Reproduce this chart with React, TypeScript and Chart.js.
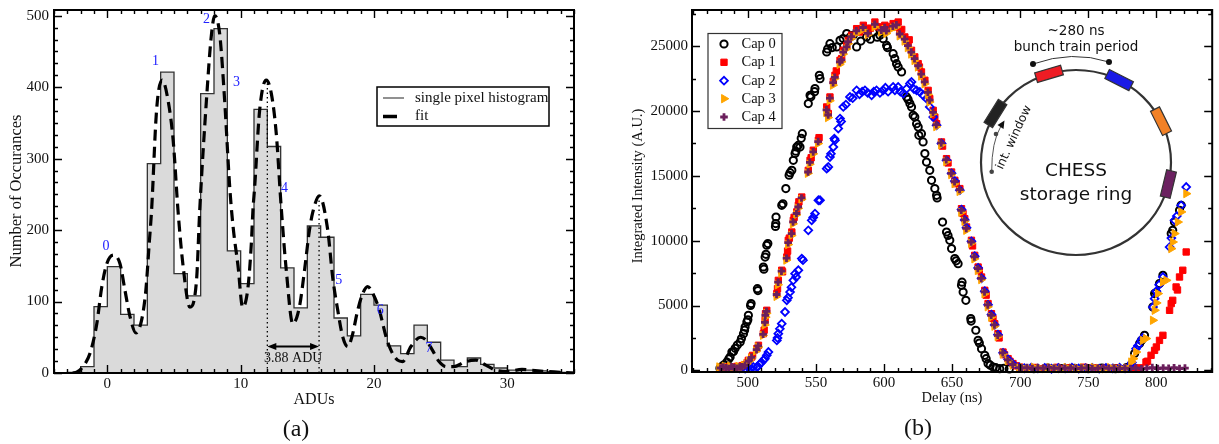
import React, { useEffect, useRef } from 'react';
import { Chart, registerables } from 'chart.js';

Chart.register(...registerables);

// ---------------- Panel (a): single pixel histogram ----------------
const histBinStarts = [-4, -3, -2, -1, 0, 1, 2, 3, 4, 5, 6, 7, 8, 9, 10, 11, 12, 13, 14, 15, 16, 17, 18, 19, 20, 21, 22, 23, 24, 25, 26, 27, 28, 29, 30, 31, 32, 33, 34];
const histCounts = [0, 1, 9, 93, 149, 82, 67, 293, 421, 139, 108, 391, 482, 171, 125, 369, 317, 147, 91, 206, 190, 77, 52, 110, 95, 38, 27, 67, 43, 18, 9, 21, 12, 7, 4, 4, 3, 2, 1];

const fitAdu = [-2.6, -2.3, -1.67, -1.29, -0.79, -0.42, -0.04, 0.45, 0.95, 1.32, 1.7, 2.15, 2.57, 2.89, 3.14, 3.32, 3.69, 4.11, 4.56, 4.94, 5.31, 5.68, 6.19, 6.69, 6.93, 7.43, 7.81, 8.06, 8.43, 8.8, 9.18, 9.43, 9.8, 10.15, 10.55, 10.8, 10.92, 11.05, 11.42, 11.92, 12.3, 12.67, 13.04, 13.42, 13.91, 14.41, 14.79, 15.16, 15.41, 15.9, 16.53, 16.9, 17.28, 17.65, 18.03, 18.35, 18.78, 19.15, 19.52, 20.02, 20.4, 20.9, 21.27, 21.77, 22.14, 22.77, 23.5, 23.9, 24.38, 24.88, 25.4, 26.0, 26.88, 27.63, 28.38, 29.12, 30.0, 31.1, 31.8, 33.0, 35.0];
const fitCounts = [0, 1, 13, 28, 69, 120, 153, 165, 153, 116, 79, 56, 74, 116, 181, 228, 367, 410, 381, 325, 225, 150, 92, 130, 228, 381, 474, 500, 474, 381, 260, 205, 150, 92, 120, 181, 228, 260, 367, 410, 391, 335, 232, 144, 69, 93, 144, 200, 225, 248, 200, 134, 88, 51, 37, 51, 88, 111, 121, 107, 88, 51, 32, 18, 16, 37, 50, 46, 32, 16, 9, 9, 16, 18, 11, 4, 2, 5, 4, 2, 0];

const peakLabels = ['0', '1', '2', '3', '4', '5', '6', '7'];
const peakLabelAdu = [-0.1, 3.62, 7.43, 9.68, 13.29, 17.35, 20.47, 24.13];
const peakLabelCount = [177, 436, 495, 407, 259, 129, 88, 34];

const spacingStartAdu = 12.0;
const peakSpacingAdu = 3.88;
const spacingLineTops = [410, 246];
const spacingArrowCount = 37;
const spacingTextCount = 21;

const xTicksA = [0, 10, 20, 30];
const yTicksA = [0, 100, 200, 300, 400, 500];

// ---------------- Panel (b): integrated intensity vs delay ----------------
const cap0: [number, number][] = [
  [479.5, 150], [481, 300], [482.5, 420], [484.6, 640], [486, 880], [487, 1030], [488.3, 1410], [489.5, 1450], [490.7, 1700], [492.3, 1950], [494.4, 2180], [495.3, 2450], [496.8, 2830], [497.6, 3100], [498, 3340], [499.3, 3730], [500, 3900], [500.4, 4240], [502, 5000], [502.4, 5150], [507, 6300], [507.4, 6150], [511.4, 7970], [511.8, 7800], [512.7, 8740], [513.3, 8950], [513.9, 9650], [514.7, 9780],
  [520.3, 11100], [520.5, 11320], [520.7, 11830], [524.9, 12730], [525.8, 12850], [527.9, 14020], [530.3, 15050], [531, 15250], [532.3, 15430], [533.4, 16200], [534.7, 16720], [535.3, 16900], [535.9, 17230], [537, 17350], [538.3, 17230], [539.2, 17900], [540, 18260],
  [544.4, 20580], [545.7, 21220], [546.3, 21100], [549, 21500], [549.3, 21740], [552.5, 22760], [553, 22500],
  [557.9, 24560], [558.6, 24800], [560.3, 25200], [562, 24900], [565.3, 24950], [567.7, 25460], [570, 25600], [572.6, 25980], [575, 25700], [577.4, 25850], [579.9, 24950], [583, 25400], [587.2, 25720], [590, 25550], [592.1, 26100], [595, 25700], [597, 25850], [599.4, 25590], [601.9, 25070], [602.5, 24900],
  [606.7, 24430], [607.9, 24050], [609.2, 23660], [610.4, 23400], [612.9, 23020],
  [616.6, 21090], [617.7, 20900], [619, 20580], [620.2, 20320], [621.4, 19680], [622.6, 19540], [623.9, 19030], [625.1, 18770], [625.6, 18130], [627.5, 18260], [628.7, 17620],
  [630, 16720], [631.2, 16070], [633.6, 15430], [634.9, 14660], [637.3, 14020], [638.6, 13500], [639, 13300],
  [643, 11440], [645.9, 10670], [647, 10400], [648.3, 10030], [649.6, 9390], [652, 8620], [653, 8450], [654.4, 8230],
  [656.9, 6560], [657.3, 6800], [658.1, 6040], [660.1, 5400], [663.7, 3990], [664, 3800], [667.4, 3090], [669.1, 2310], [670, 2100], [671.6, 1670], [674, 1160], [675, 900], [676.4, 520], [678, 400], [680.1, 250], [682, 200], [685, 130], [688, 150], [692, 110],
  [700, 150], [710, 120], [720, 180], [730, 140], [740, 160], [750, 120], [760, 170], [770, 130], [778, 200],
  [784, 1290], [787.7, 2060], [789, 2300], [791.3, 2700], [797.4, 4880], [798.7, 5920], [800, 6000], [802.3, 6690], [804.8, 7330], [810.9, 10550], [812, 10800], [813.3, 11440], [817, 12350], [818.2, 12730],
];

const cap1: [number, number][] = [
  [480, 220], [482, 160], [484, 280], [486, 190], [488, 250], [490, 160], [492, 300], [494, 230], [496, 360], [498, 420], [499.5, 600], [500.4, 770], [502.9, 1030], [503.5, 1150], [506.6, 1670], [507.8, 1930], [511.4, 2830], [512, 3100], [512.7, 3860], [513, 4370], [513.9, 4630],
  [521.3, 5920], [521.8, 6300], [522.4, 6940], [524.9, 7720], [525.5, 7600], [528.6, 8740], [529.2, 9200], [529.7, 10030], [530.5, 10200], [532.3, 10670], [533.4, 11570], [534, 11800], [535.9, 12220], [537.1, 12730], [537.5, 13000], [539.6, 13370],
  [544.4, 15430], [545.7, 16200], [546.5, 16400], [548.1, 16980], [551.8, 17750], [552.3, 17950], [557.9, 20320], [559.1, 19810], [560.3, 21090], [562.8, 22300], [564, 22760], [565, 23100], [567.7, 23920], [568.9, 24050], [570.1, 24690], [572.6, 25070], [573.8, 25460], [576.2, 25850], [579.9, 26360], [582, 26100], [584.8, 26620], [586, 26300], [588.4, 26100], [590, 26400], [593.3, 26870], [596, 26500], [598.2, 26360], [600.6, 26620], [601.9, 26360], [604, 26500], [606.7, 26750], [608, 26500], [610.4, 26870], [611.7, 26100], [613, 26300], [615.3, 25720], [617.7, 25200], [618.5, 25500], [620.2, 24690], [622.6, 24180], [625.1, 23660], [626, 23400], [627.5, 23020], [630, 22380], [632.4, 21600], [633.6, 20960], [636.1, 20060], [637.3, 19540], [638.6, 19030],
  [642.2, 17620], [643, 17300], [645.9, 16330], [647, 16000], [649.6, 15300], [652, 14660], [653, 14400], [655.7, 14020], [656.9, 12470], [658, 12100], [659.3, 11700], [660.6, 11060], [664.2, 10030], [665, 9600], [666.6, 8870], [669.1, 7970], [670, 7700], [671.6, 7200], [674, 6170], [675, 5800], [676.4, 5150], [678.9, 4370], [680, 4000], [681.3, 3600], [683.7, 2830], [684.5, 2500], [687.4, 1410], [688.5, 1200], [691.1, 900], [692.5, 700], [694.7, 520], [697, 350], [699.6, 250],
  [703, 180], [707, 140], [711, 220], [715, 120], [719, 190], [723, 150], [727, 230], [731, 130], [735, 200], [739, 170], [743, 120], [747, 240], [751, 160], [755, 190], [759, 130], [763, 210], [767, 150], [771, 180], [775, 120], [779, 200], [782, 160], [785, 120], [788, 190],
  [792.4, 640], [793.5, 700], [796.1, 1160], [798.7, 1540], [800, 1800], [802.3, 2310], [804.8, 2700], [809.7, 4630], [810.9, 5150], [812, 5400], [814.5, 6430], [815.5, 6200], [817, 7200], [819.4, 7720], [821.9, 9130],
];

const cap2: [number, number][] = [
  [494, 160], [496, 220], [498, 140], [500.4, 230], [502, 180], [504, 260], [506.6, 250], [507.5, 300], [509, 520], [510, 600], [511.4, 770], [512.5, 900], [513.9, 1160], [515.1, 1410],
  [521.3, 2310], [521.8, 2500], [522.4, 2830], [523.5, 3200], [524.9, 3600], [527.3, 4500], [528.6, 5400], [529.5, 5600], [531, 6040], [532, 6400], [533.4, 6940], [534.7, 7460], [535.5, 7200], [537.1, 7720], [539.6, 8620], [540.5, 8500],
  [544.4, 10800], [546.9, 11570], [548, 11800], [549.3, 12090], [551.8, 13120], [553, 13120], [557.9, 15560], [559.1, 15690], [560.3, 16460], [561, 16700], [562.8, 17230], [563.5, 17880], [564, 17750], [566.4, 18650], [567.7, 19420], [568.5, 19200], [570.1, 20320], [572, 20500], [575, 21090], [577, 21000], [579.9, 21600], [582, 21300], [584, 21500], [586, 21600], [588, 21400], [590.9, 21220], [592.5, 21500], [594.5, 21600], [597, 21400], [599.4, 21600], [601, 21800], [603, 21500], [606.7, 21860], [608, 21600], [610.4, 21860], [612, 21500], [614.1, 21350], [616.6, 21730], [619, 22120], [620.2, 22250], [622, 21700], [623.9, 21600], [626.3, 21470], [628.7, 21220], [631.2, 20960], [633.6, 20320], [636.1, 19540], [638.6, 18900],
  [642.2, 17500], [645.9, 16200], [649.6, 15200], [652, 14600], [655.7, 13900], [656.9, 12400], [659.3, 11600], [660.6, 11000], [664.2, 9950], [666.6, 8800], [669.1, 7900], [671.6, 7100], [674, 6100], [676.4, 5050], [678.9, 4300], [681.3, 3500], [683.7, 2750], [687.4, 1350], [691.1, 850], [694.7, 480], [699.6, 220],
  [703, 160], [708, 210], [713, 150], [718, 190], [723, 120], [728, 180], [733, 160], [738, 200], [743, 140], [748, 170], [753, 190], [758, 130], [763, 180], [768, 150], [773, 200], [777, 160], [780, 260],
  [782, 600], [785.1, 1670], [786.5, 1900], [788.8, 2310], [790, 2500], [797.4, 4880], [798.7, 5530], [800, 6100], [802, 6600], [804.8, 7200], [809.7, 9510], [811, 10200], [813.3, 11570], [815, 11900], [818.2, 12730], [821.9, 14140],
];

const cap3: [number, number][] = [
  [479, 260], [481, 160], [483, 310], [485, 180], [487, 330], [489, 240], [491, 160], [493, 300], [495, 210], [497, 380], [499, 500], [500.8, 700], [502.5, 950], [506, 1500], [507.5, 1800], [511, 2700], [512.3, 3500], [512.9, 4100], [513.6, 4400],
  [521, 5700], [522, 6600], [524.5, 7500], [528.2, 8500], [529.5, 9700], [532, 10400], [533, 11300], [535.5, 12000], [536.8, 12500], [539.3, 13200],
  [544, 15200], [545.3, 15900], [547.8, 16700], [551.5, 17500], [557.5, 19900], [558.8, 19500], [560, 20800], [562.4, 22000], [563.6, 22500], [567.3, 23600], [568.6, 23800], [569.8, 24400], [572.3, 24800], [573.5, 25200], [575.8, 25600], [579.6, 26000], [584.4, 26300], [588, 25900], [593, 26500], [597.8, 26100], [600.3, 26300], [601.6, 26000], [606.4, 26400], [609, 26500], [611.4, 25800], [615, 25400], [617.4, 24900], [619.9, 24400], [622.3, 23900], [624.8, 23400], [627.2, 22700], [629.7, 22100], [632.1, 21300], [633.3, 20700], [635.8, 19800], [638.3, 18800],
  [641.9, 17400], [645.6, 16100], [649.3, 15100], [651.7, 14400], [655.4, 13800], [656.6, 12200], [659, 11500], [660.3, 10800], [663.9, 9800], [666.3, 8600], [668.8, 7700], [671.3, 7000], [673.7, 5900], [676.1, 4900], [678.6, 4100], [681, 3400], [683.4, 2600], [687.1, 1250], [690.8, 750], [694.4, 400], [699.3, 180],
  [702, 190], [706, 150], [710, 230], [714, 170], [718, 130], [722, 210], [726, 160], [730, 120], [734, 220], [738, 180], [742, 140], [746, 200], [750, 160], [754, 220], [758, 150], [762, 120], [766, 210], [770, 170], [774, 140], [778, 190],
  [781.5, 640], [783, 900], [785.1, 1410], [790, 2310], [792.4, 2450], [797.4, 3860], [798.7, 4630], [800, 5200], [801.1, 5920], [804.8, 6810], [807.3, 6940], [810.9, 9390], [812, 9900], [813.3, 10550], [815.7, 11440], [818.2, 12220], [821.9, 13630],
];

const cap4: [number, number][] = [
  [480, 180], [482, 260], [484, 200], [486, 140], [488, 280], [490, 210], [492, 160], [494, 250], [496, 280], [498, 380], [500.6, 720], [502.7, 1000], [506.4, 1600], [507.6, 1880], [511.2, 2780], [512.5, 3700], [512.8, 4250], [513.7, 4550],
  [521.1, 5850], [522.2, 6800], [524.7, 7650], [528.4, 8650], [529.6, 9850], [532.1, 10550], [533.2, 11450], [535.7, 12100], [537, 12600], [539.4, 13300],
  [544.2, 15300], [545.5, 16050], [548, 16850], [551.6, 17650], [557.7, 20100], [559, 19700], [560.2, 21000], [562.6, 22200], [563.8, 22600], [567.5, 23800], [568.7, 23950], [570, 24550], [572.5, 24950], [573.6, 25350], [576, 25750], [579.7, 26200], [584.6, 26450], [588.2, 26000], [593.2, 26700], [598, 26250], [600.5, 26450], [601.7, 26200], [606.5, 26550], [609.1, 26650], [611.5, 25950], [615.1, 25550], [617.5, 25050], [620, 24550], [622.4, 24050], [625, 23500], [627.3, 22850], [629.8, 22250], [632.2, 21450], [633.5, 20850], [636, 19900], [638.4, 18950],
  [642, 17550], [645.7, 16250], [649.4, 15200], [651.8, 14550], [655.5, 13950], [656.7, 12350], [659.1, 11600], [660.4, 10950], [664, 9900], [666.4, 8750], [668.9, 7850], [671.4, 7100], [673.8, 6050], [676.2, 5050], [678.7, 4250], [681.1, 3500], [683.5, 2700], [687.2, 1350], [690.9, 800], [694.5, 450], [699.4, 200],
  [701, 170], [705, 210], [709, 140], [713, 190], [717, 160], [721, 220], [725, 150], [729, 180], [733, 150], [737, 200], [741, 130], [745, 170], [749, 190], [753, 130], [757, 160], [761, 200], [765, 150], [769, 180], [773, 130], [777, 170], [781, 140], [785, 190], [789, 120], [793, 160], [797, 210], [801, 140], [805, 180], [809, 150], [813, 200], [817, 130], [821, 170],
];

const capLabels = ['Cap 0', 'Cap 1', 'Cap 2', 'Cap 3', 'Cap 4'];
const xTicksB = [500, 550, 600, 650, 700, 750, 800];
const yTicksB = [0, 5000, 10000, 15000, 20000, 25000];

// ---------------- helpers ----------------
const SERIF = "'Liberation Serif', 'Times New Roman', serif";
const SANS = "'DejaVu Sans', Verdana, sans-serif";

type MarkerSpec = { style: string; color: string; fill: string; radius: number; rotation: number; width: number };

const capStyles: MarkerSpec[] = [
  { style: 'circle', color: '#000000', fill: 'rgba(0,0,0,0)', radius: 3.6, rotation: 0, width: 2 },
  { style: 'rect', color: '#ff0000', fill: '#ff0000', radius: 4.5, rotation: 0, width: 1 },
  { style: 'rectRot', color: '#0000ff', fill: 'rgba(0,0,0,0)', radius: 3.9, rotation: 0, width: 1.8 },
  { style: 'triangle', color: '#ffa500', fill: '#ffa500', radius: 4.8, rotation: 90, width: 1 },
  { style: 'cross', color: '#6b1f5c', fill: '#6b1f5c', radius: 3.8, rotation: 0, width: 2.8 },
];

function drawMarker(ctx: CanvasRenderingContext2D, m: MarkerSpec, x: number, y: number) {
  ctx.save();
  ctx.strokeStyle = m.color;
  ctx.fillStyle = m.fill;
  ctx.lineWidth = m.width;
  const r = m.radius;
  ctx.beginPath();
  if (m.style === 'circle') {
    ctx.arc(x, y, r, 0, Math.PI * 2);
    ctx.stroke();
  } else if (m.style === 'rect') {
    const s = r * Math.SQRT1_2;
    ctx.rect(x - s, y - s, 2 * s, 2 * s);
    ctx.fill();
    ctx.stroke();
  } else if (m.style === 'rectRot') {
    ctx.moveTo(x - r, y);
    ctx.lineTo(x, y - r);
    ctx.lineTo(x + r, y);
    ctx.lineTo(x, y + r);
    ctx.closePath();
    ctx.stroke();
  } else if (m.style === 'triangle') {
    ctx.moveTo(x + r, y);
    ctx.lineTo(x - r / 2, y - r * 0.866);
    ctx.lineTo(x - r / 2, y + r * 0.866);
    ctx.closePath();
    ctx.fill();
    ctx.stroke();
  } else {
    ctx.moveTo(x - r, y);
    ctx.lineTo(x + r, y);
    ctx.moveTo(x, y - r);
    ctx.lineTo(x, y + r);
    ctx.stroke();
  }
  ctx.restore();
}

function makeFramePlugin(id: string, xMajor: number[], xMinorStep: number, yMajor: number[], yMinorStep: number) {
  return {
    id,
    afterDraw(chart: any) {
      const { ctx, chartArea: a, scales } = chart;
      const xs = scales.x;
      const ys = scales.y;
      const majLen = 8;
      const minLen = 4;
      ctx.save();
      ctx.strokeStyle = '#000';
      ctx.lineWidth = 1.4;
      const isMajor = (list: number[], v: number) => list.some((m) => Math.abs(m - v) < 1e-6);
      const xStart = Math.ceil(xs.min / xMinorStep - 1e-9);
      const xEnd = Math.floor(xs.max / xMinorStep + 1e-9);
      ctx.beginPath();
      for (let k = xStart; k <= xEnd; k++) {
        const v = k * xMinorStep;
        const len = isMajor(xMajor, v) ? majLen : minLen;
        const p = Math.round(xs.getPixelForValue(v)) + 0.5;
        ctx.moveTo(p, a.bottom);
        ctx.lineTo(p, a.bottom - len);
        ctx.moveTo(p, a.top);
        ctx.lineTo(p, a.top + len);
      }
      const yStart = Math.ceil(ys.min / yMinorStep - 1e-9);
      const yEnd = Math.floor(ys.max / yMinorStep + 1e-9);
      for (let k = yStart; k <= yEnd; k++) {
        const v = k * yMinorStep;
        const len = isMajor(yMajor, v) ? majLen : minLen;
        const p = Math.round(ys.getPixelForValue(v)) + 0.5;
        ctx.moveTo(a.left, p);
        ctx.lineTo(a.left + len, p);
        ctx.moveTo(a.right, p);
        ctx.lineTo(a.right - len, p);
      }
      ctx.stroke();
      ctx.lineWidth = 2;
      ctx.strokeRect(a.left, a.top, a.right - a.left, a.bottom - a.top);
      ctx.restore();
    },
  };
}

function text(ctx: CanvasRenderingContext2D, s: string, x: number, y: number, font: string, color = '#111', align: CanvasTextAlign = 'center', rot = 0) {
  ctx.save();
  ctx.font = font;
  ctx.fillStyle = color;
  ctx.textAlign = align;
  ctx.textBaseline = 'middle';
  ctx.translate(x, y);
  if (rot) ctx.rotate(rot);
  ctx.fillText(s, 0, 0);
  ctx.restore();
}

const annotPluginA = {
  id: 'annotA',
  afterDatasetsDraw(chart: any) {
    const { ctx, scales } = chart;
    const xs = scales.x;
    const ys = scales.y;
    ctx.save();
    ctx.strokeStyle = '#000';
    ctx.lineWidth = 1.3;
    ctx.setLineDash([1.5, 3]);
    [spacingStartAdu, spacingStartAdu + peakSpacingAdu].forEach((v, i) => {
      const px = xs.getPixelForValue(v);
      ctx.beginPath();
      ctx.moveTo(px, ys.getPixelForValue(0));
      ctx.lineTo(px, ys.getPixelForValue(spacingLineTops[i]));
      ctx.stroke();
    });
    ctx.setLineDash([]);
    const x1 = xs.getPixelForValue(spacingStartAdu);
    const x2 = xs.getPixelForValue(spacingStartAdu + peakSpacingAdu);
    const ay = ys.getPixelForValue(spacingArrowCount);
    ctx.lineWidth = 2;
    ctx.beginPath();
    ctx.moveTo(x1 + 6, ay);
    ctx.lineTo(x2 - 6, ay);
    ctx.stroke();
    ctx.fillStyle = '#000';
    ctx.beginPath();
    ctx.moveTo(x1, ay);
    ctx.lineTo(x1 + 9, ay - 3.5);
    ctx.lineTo(x1 + 9, ay + 3.5);
    ctx.closePath();
    ctx.fill();
    ctx.beginPath();
    ctx.moveTo(x2, ay);
    ctx.lineTo(x2 - 9, ay - 3.5);
    ctx.lineTo(x2 - 9, ay + 3.5);
    ctx.closePath();
    ctx.fill();
    ctx.restore();
    text(ctx, `${peakSpacingAdu.toFixed(2)} ADU`, (x1 + x2) / 2, ys.getPixelForValue(spacingTextCount), `14px ${SERIF}`, '#111');
    peakLabels.forEach((lab, i) => {
      text(ctx, lab, xs.getPixelForValue(peakLabelAdu[i]), ys.getPixelForValue(peakLabelCount[i]), `14px ${SERIF}`, '#2222ff');
    });
  },
  afterDraw(chart: any) {
    const { ctx } = chart;
    text(ctx, 'Number of Occurances', 17, 191, `16.5px ${SERIF}`, '#111', 'center', -Math.PI / 2);
    text(ctx, 'ADUs', 314, 400, `16px ${SERIF}`);
    text(ctx, '(a)', 296, 430, `24px ${SERIF}`);
    ctx.save();
    ctx.fillStyle = '#fff';
    ctx.fillRect(377, 87, 172, 39);
    ctx.strokeStyle = '#000';
    ctx.lineWidth = 1.5;
    ctx.strokeRect(377, 87, 172, 39);
    ctx.strokeStyle = '#555';
    ctx.lineWidth = 1.3;
    ctx.beginPath();
    ctx.moveTo(383, 98);
    ctx.lineTo(404, 98);
    ctx.stroke();
    ctx.strokeStyle = '#000';
    ctx.lineWidth = 3.5;
    ctx.beginPath();
    ctx.moveTo(383, 116.5);
    ctx.lineTo(397, 116.5);
    ctx.stroke();
    ctx.restore();
    text(ctx, 'single pixel histogram', 415, 98, `15px ${SERIF}`, '#111', 'left');
    text(ctx, 'fit', 415, 116.5, `15px ${SERIF}`, '#111', 'left');
  },
};

const OFF = 610; // page x of right canvas

const annotPluginB = {
  id: 'annotB',
  afterDraw(chart: any) {
    const { ctx } = chart;
    text(ctx, 'Integrated Intensity (A.U.)', 638 - OFF, 186, `14.5px ${SERIF}`, '#111', 'center', -Math.PI / 2);
    text(ctx, 'Delay (ns)', 952 - OFF, 398, `14.5px ${SERIF}`);
    text(ctx, '(b)', 918 - OFF, 429, `24px ${SERIF}`);

    ctx.save();
    ctx.fillStyle = '#fff';
    ctx.fillRect(708 - OFF, 33.5, 74, 95);
    ctx.strokeStyle = '#333';
    ctx.lineWidth = 1.2;
    ctx.strokeRect(708 - OFF, 33.5, 74, 95);
    ctx.restore();
    const rows = [44, 62.3, 80.7, 98.7, 117];
    capLabels.forEach((lab, i) => {
      drawMarker(ctx, capStyles[i], 724 - OFF, rows[i]);
      text(ctx, lab, 741.5 - OFF, rows[i], `14.5px ${SERIF}`, '#111', 'left');
    });

    const cx = 1076 - OFF;
    const cy = 162.5;
    const rx = 95;
    const ry = 92.5;
    ctx.save();
    ctx.strokeStyle = '#333';
    ctx.lineWidth = 2.2;
    ctx.beginPath();
    ctx.ellipse(cx, cy, rx, ry, 0, 0, Math.PI * 2);
    ctx.stroke();
    const boxes: [number, string][] = [
      [-148, '#222222'],
      [-106.5, '#ee1c24'],
      [-63, '#1a1ae6'],
      [-26.5, '#f28126'],
      [13.5, '#6b2160'],
    ];
    boxes.forEach(([deg, col]) => {
      const t = (deg * Math.PI) / 180;
      ctx.save();
      ctx.translate(cx + rx * Math.cos(t), cy + ry * Math.sin(t));
      ctx.rotate(t + Math.PI / 2);
      ctx.fillStyle = col;
      ctx.fillRect(-13.5, -5, 27, 10);
      ctx.strokeStyle = '#333';
      ctx.lineWidth = 1.2;
      ctx.strokeRect(-13.5, -5, 27, 10);
      ctx.restore();
    });
    ctx.strokeStyle = '#333';
    ctx.lineWidth = 1;
    ctx.beginPath();
    ctx.moveTo(1033 - OFF, 64);
    ctx.quadraticCurveTo(1072 - OFF, 50, 1109 - OFF, 62);
    ctx.stroke();
    ctx.fillStyle = '#111';
    [[1033, 64], [1109, 62]].forEach(([x, y]) => {
      ctx.beginPath();
      ctx.arc(x - OFF, y, 3, 0, Math.PI * 2);
      ctx.fill();
    });
    ctx.strokeStyle = '#555';
    ctx.lineWidth = 1;
    ctx.beginPath();
    ctx.moveTo(991.7 - OFF, 171.7);
    ctx.quadraticCurveTo(991.5 - OFF, 142, 1001 - OFF, 126);
    ctx.stroke();
    ctx.fillStyle = '#111';
    ctx.beginPath();
    ctx.moveTo(1004.5 - OFF, 120.5);
    ctx.lineTo(997.5 - OFF, 125);
    ctx.lineTo(1003.5 - OFF, 129);
    ctx.closePath();
    ctx.fill();
    ctx.fillStyle = '#444';
    [[991.7, 171.7], [996, 134]].forEach(([x, y]) => {
      ctx.beginPath();
      ctx.arc(x - OFF, y, 2.3, 0, Math.PI * 2);
      ctx.fill();
    });
    ctx.restore();
    text(ctx, '~280 ns', 1076 - OFF, 31, `13.5px ${SANS}`);
    text(ctx, 'bunch train period', 1076 - OFF, 47.5, `13.5px ${SANS}`);
    text(ctx, 'CHESS', 1076 - OFF, 171.5, `18.5px ${SANS}`);
    text(ctx, 'storage ring', 1076 - OFF, 195, `18.5px ${SANS}`);
    text(ctx, 'int. window', 1014 - OFF, 137.5, `12px ${SANS}`, '#111', 'center', (-65.2 * Math.PI) / 180);
  },
};

function fixAxis(width?: number, height?: number) {
  return (s: any) => {
    if (width !== undefined) s.width = width;
    if (height !== undefined) s.height = height;
    s.paddingTop = 0;
    s.paddingBottom = 0;
    s.paddingLeft = 0;
    s.paddingRight = 0;
  };
}

export default function App() {
  const leftRef = useRef<HTMLCanvasElement>(null);
  const rightRef = useRef<HTMLCanvasElement>(null);

  useEffect(() => {
    const histPoints = histBinStarts.map((x, i) => ({ x, y: histCounts[i] }));
    histPoints.push({ x: histBinStarts[histBinStarts.length - 1] + 1, y: histCounts[histCounts.length - 1] });
    const fitPoints = fitAdu.map((x, i) => ({ x, y: fitCounts[i] }));

    const tickFont = { family: SERIF, size: 15 };

    const left = new Chart(leftRef.current as HTMLCanvasElement, {
      type: 'line',
      data: {
        datasets: [
          {
            label: 'single pixel histogram',
            data: histPoints,
            stepped: 'before',
            borderColor: '#333',
            borderWidth: 1.3,
            backgroundColor: '#dadada',
            fill: 'origin',
            pointRadius: 0,
            order: 2,
          },
          {
            label: 'fit',
            data: fitPoints,
            borderColor: '#000',
            borderWidth: 3.2,
            borderDash: [11, 6],
            pointRadius: 0,
            fill: false,
            cubicInterpolationMode: 'monotone',
            order: 1,
          },
        ],
      } as any,
      options: {
        animation: false,
        responsive: false,
        events: [],
        layout: { padding: { left: 0, top: 10, right: 36, bottom: 0 } },
        plugins: { legend: { display: false }, tooltip: { enabled: false } },
        scales: {
          x: {
            type: 'linear',
            min: -4,
            max: 35,
            grid: { display: false, drawTicks: false },
            border: { display: false },
            ticks: { font: tickFont, color: '#111', padding: 2, maxRotation: 0 },
            afterBuildTicks: (s: any) => {
              s.ticks = xTicksA.map((v) => ({ value: v }));
            },
            afterFit: fixAxis(undefined, 71),
          },
          y: {
            type: 'linear',
            min: 0,
            max: 508,
            grid: { display: false, drawTicks: false },
            border: { display: false },
            ticks: { font: tickFont, color: '#111', padding: 5 },
            afterBuildTicks: (s: any) => {
              s.ticks = yTicksA.map((v) => ({ value: v }));
            },
            afterFit: fixAxis(54, undefined),
          },
        },
      } as any,
      plugins: [annotPluginA, makeFramePlugin('frameA', xTicksA, 1, yTicksA, 100 / 6)],
    });

    const caps = [cap0, cap1, cap2, cap3, cap4];
    const right = new Chart(rightRef.current as HTMLCanvasElement, {
      type: 'scatter',
      data: {
        datasets: caps.map((arr, i) => ({
          label: capLabels[i],
          data: arr.map(([x, y]) => ({ x, y })),
          pointStyle: capStyles[i].style,
          pointRadius: capStyles[i].radius,
          pointRotation: capStyles[i].rotation,
          pointBorderWidth: capStyles[i].width,
          borderColor: capStyles[i].color,
          backgroundColor: capStyles[i].fill,
          pointBorderColor: capStyles[i].color,
          pointBackgroundColor: capStyles[i].fill,
          clip: false,
          order: 5 - i,
        })),
      } as any,
      options: {
        animation: false,
        responsive: false,
        events: [],
        layout: { padding: { left: 0, top: 10, right: 6, bottom: 0 } },
        plugins: { legend: { display: false }, tooltip: { enabled: false } },
        scales: {
          x: {
            type: 'linear',
            min: 459,
            max: 841,
            grid: { display: false, drawTicks: false },
            border: { display: false },
            ticks: { font: tickFont, color: '#111', padding: 2, maxRotation: 0, callback: (v: any) => String(v) },
            afterBuildTicks: (s: any) => {
              s.ticks = xTicksB.map((v) => ({ value: v }));
            },
            afterFit: fixAxis(undefined, 72),
          },
          y: {
            type: 'linear',
            min: -130,
            max: 27800,
            grid: { display: false, drawTicks: false },
            border: { display: false },
            ticks: { font: tickFont, color: '#111', padding: 4, callback: (v: any) => String(v) },
            afterBuildTicks: (s: any) => {
              s.ticks = yTicksB.map((v) => ({ value: v }));
            },
            afterFit: fixAxis(82, undefined),
          },
        },
      } as any,
      plugins: [annotPluginB, makeFramePlugin('frameB', xTicksB, 10, yTicksB, 2500)],
    });

    return () => {
      left.destroy();
      right.destroy();
    };
  }, []);

  return (
    <div style={{ position: 'absolute', left: 0, top: 0, width: 1219, height: 444, background: '#fff', overflow: 'hidden' }}>
      <canvas ref={leftRef} width={610} height={444} style={{ position: 'absolute', left: 0, top: 0, display: 'block' }} />
      <canvas ref={rightRef} width={609} height={444} style={{ position: 'absolute', left: OFF, top: 0, display: 'block' }} />
    </div>
  );
}
